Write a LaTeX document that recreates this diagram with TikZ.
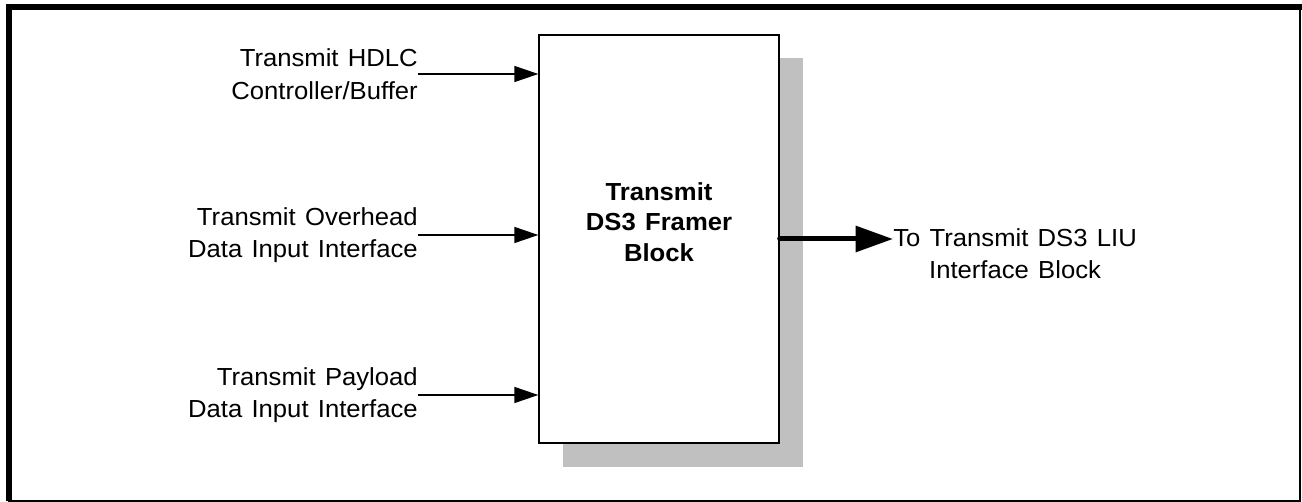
\documentclass[tikz,border=0pt]{standalone}
\usepackage{fontspec}
\setmainfont[FakeStretch=1.04, WordSpace=1.3]{Liberation Sans}
\usetikzlibrary{arrows.meta}

\definecolor{shadowgray}{HTML}{C0C0C0}

\tikzset{
	inlabel/.style={anchor=east, align=right, inner sep=0pt,
		font=\fontsize{18.5pt}{24.5pt}\selectfont},
	outlabel/.style={anchor=west, align=center, inner sep=0pt,
		font=\fontsize{18.5pt}{24pt}\selectfont},
	framer/.style={draw, line width=1pt, fill=white, inner sep=0pt,
		minimum width=180pt, minimum height=306pt},
	feed/.style={line width=1pt, -{Triangle[length=18pt, width=12pt]}},
	outfeed/.style={line width=3.75pt, line cap=round, -{Triangle[length=28pt, width=19pt]}}
}

\begin{document}
\begin{tikzpicture}[x=0.75pt, y=-0.75pt]
	
	\useasboundingbox (0,0) rectangle (1302,502);
	
	% frame
	\draw[line width=1.5pt] (9,8) rectangle (1300,500.5);
	\draw[line width=4.5pt] (9,500.5) -- (9,7) -- (1302,7);
	
	% shadow and block
	\fill[shadowgray] (563,58) rectangle (803,467);
	\node[framer] (box) at (659,239) {};
	\node[font=\fontsize{18.5pt}{23pt}\selectfont\bfseries, align=center] (title)
		at (659,222) {Transmit\\DS3 Framer\\Block};
	
	% inputs
	\node[inlabel] (hdlc) at (418,74) {Transmit HDLC\\Controller/Buffer};
	\node[inlabel] (ovh) at (418,235) {Transmit Overhead\\Data Input Interface};
	\node[inlabel] (pay) at (418,395) {Transmit Payload\\Data Input Interface};
	
	\foreach \src in {hdlc,ovh,pay}{
		\draw[feed] (\src.east) -- (\src.east -| box.west);
	}
	
	% output
	\node[outlabel] (liu) at (893,254) {To Transmit DS3 LIU\\Interface Block};
	\draw[outfeed] (box.east) -- (box.east -| liu.west);
	
\end{tikzpicture}
\end{document}
